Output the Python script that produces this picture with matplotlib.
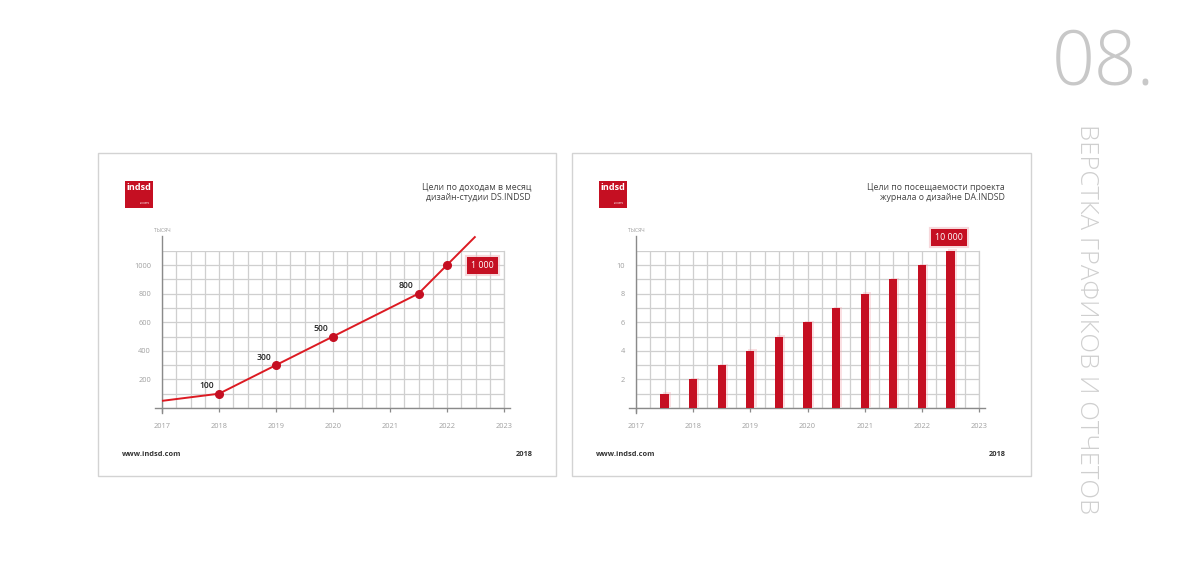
import matplotlib
matplotlib.use("Agg")
import matplotlib.pyplot as plt
import matplotlib.patches as mpatches
import matplotlib.patheffects as pe
import numpy as np

# ---------------- data ----------------
line_years = [2017, 2018, 2019, 2020, 2021.5, 2022, 2022.5]
line_values = [50, 100, 300, 500, 800, 1000, 1200]
marker_years = [2018, 2019, 2020, 2021.5, 2022]
marker_values = [100, 300, 500, 800, 1000]
marker_labels = ["100", "300", "500", "800"]
line_final_label = "1 000"

bar_years = [2017.5, 2018, 2018.5, 2019, 2019.5, 2020, 2020.5, 2021, 2021.5, 2022, 2022.5]
bar_values = [1, 2, 3, 4, 5, 6, 7, 8, 9, 10, 11]
bar_final_label = "10 000"

year_ticks = [2017, 2018, 2019, 2020, 2021, 2022, 2023]
left_yticks = [200, 400, 600, 800, 1000]
right_yticks = [2, 4, 6, 8, 10]

title_left = ["Цели по доходам в месяц", "дизайн-студии DS.INDSD"]
title_right = ["Цели по посещаемости проекта", "журнала о дизайне DA.INDSD"]
unit_label = "ТЫСЯЧ"
footer_site = "www.indsd.com"
footer_year = "2018"
section_number = "08."
section_title = "ВЕРСТКА ГРАФИКОВ И ОТЧЕТОВ"

# ---------------- style ----------------
W, H = 1200, 567
RED = "#c50f22"
LINE_RED = "#dc1a22"
GRID = "#cfcfcf"
AXIS = "#8a8a8a"
TICKTXT = "#a0a0a0"
FONT = ["Open Sans", "DejaVu Sans"]
plt.rcParams["font.family"] = FONT

fig = plt.figure(figsize=(12, 5.67), dpi=100)
fig.patch.set_facecolor("white")


def fx(x):
    return x / W


def fy(y):
    return 1 - y / H


def card(x0, y0, x1, y1):
    r = mpatches.Rectangle((fx(x0), fy(y1)), fx(x1 - x0), (y1 - y0) / H,
                           transform=fig.transFigure, fill=False,
                           edgecolor="#d3d3d3", linewidth=1.0, zorder=0)
    fig.add_artist(r)


def logo(x0, y0):
    r = mpatches.Rectangle((fx(x0), fy(y0 + 27)), fx(28), 27 / H,
                           transform=fig.transFigure, facecolor=RED,
                           edgecolor="none", zorder=2)
    fig.add_artist(r)
    fig.text(fx(x0 + 14), fy(y0 + 7), "indsd", color="white", fontsize=6.6,
             fontweight="bold", ha="center", va="center", zorder=3)
    fig.text(fx(x0 + 25), fy(y0 + 22), ".com", color="white", fontsize=3.2,
             ha="right", va="center", zorder=3)


def setup_axes(left_px, right_px, ymax_grid, yticks, ystep_minor, ytop):
    bottom_px, top_px = 408, 250.7
    ax = fig.add_axes([fx(left_px), fy(bottom_px), fx(right_px - left_px),
                       (bottom_px - top_px) / H])
    ax.set_xlim(2017, 2023)
    ax.set_ylim(0, ymax_grid)
    ax.set_xticks(year_ticks)
    ax.set_xticks(np.arange(2017, 2023.01, 0.25), minor=True)
    ax.set_yticks(yticks)
    ax.set_yticks(np.arange(0, ymax_grid + 0.001, ystep_minor), minor=True)
    ax.grid(True, which="both", color=GRID, linewidth=0.9, zorder=0)
    ax.set_axisbelow(True)
    for s in ax.spines.values():
        s.set_visible(False)
    ax.spines["right"].set_visible(True)
    ax.spines["right"].set_color(GRID)
    ax.spines["right"].set_linewidth(0.9)
    ax.tick_params(axis="y", which="both", length=0, labelsize=5.3,
                   labelcolor=TICKTXT, pad=8)
    ax.tick_params(axis="x", which="major", length=3, color=AXIS, width=0.9,
                   labelsize=5.3, labelcolor=TICKTXT, pad=8, direction="out")
    ax.tick_params(axis="x", which="minor", length=0)
    ax.set_xticklabels([str(y) for y in year_ticks])
    ax.set_yticklabels([str(t) for t in yticks])
    # axis lines (extending beyond the grid)
    ax.plot([2017, 2017], [-ymax_grid * 0.03, ytop], color=AXIS, lw=1.0,
            clip_on=False, zorder=3)
    ax.plot([2016.88, 2023.1], [0, 0], color=AXIS, lw=1.0, clip_on=False,
            zorder=3)
    ax.set_facecolor("none")
    return ax


# ---------------- cards ----------------
card(98, 153, 556, 476)
card(572, 153, 1031, 476)
logo(125, 181)
logo(599, 181)

for i, t in enumerate(title_left):
    fig.text(fx(531), fy(187 + i * 11), t, fontsize=6.3, color="#444444",
             ha="right", va="center")
for i, t in enumerate(title_right):
    fig.text(fx(1005), fy(187 + i * 11), t, fontsize=6.3, color="#444444",
             ha="right", va="center")

for xl, xr in [(122, 533), (596, 1006)]:
    fig.text(fx(xl), fy(454), footer_site, fontsize=5.3, color="#333333",
             fontweight="bold", ha="left", va="center")
    fig.text(fx(xr), fy(454), footer_year, fontsize=5.3, color="#333333",
             fontweight="bold", ha="right", va="center")

fig.text(fx(162), fy(230), unit_label, fontsize=3.6, color="#999999",
         ha="center", va="center")
fig.text(fx(636), fy(230), unit_label, fontsize=3.6, color="#999999",
         ha="center", va="center")

glow = [pe.Stroke(linewidth=3, foreground="#f3c0c5", alpha=0.6), pe.Normal()]

# ---------------- left chart: line ----------------
ax1 = setup_axes(162, 504, 1100, left_yticks, 100, 1200)
ax1.plot(line_years, line_values, color=LINE_RED, lw=1.4, clip_on=False,
         zorder=4, solid_capstyle="butt")
ax1.plot(marker_years, marker_values, "o", color=RED, markersize=5.5,
         clip_on=False, zorder=5)
for xv, yv, lab in zip(marker_years, marker_values, marker_labels):
    ax1.text(xv - 0.22, yv + 55, lab, fontsize=6.2, color="#222222",
             fontweight="semibold", ha="center", va="center", zorder=6)
t1 = ax1.text(marker_years[-1] + 0.62, marker_values[-1], line_final_label,
              fontsize=6.4, color="white", ha="center", va="center", zorder=6,
              bbox=dict(boxstyle="square,pad=0.45", facecolor=RED,
                        edgecolor="none"))
t1.get_bbox_patch().set_path_effects(glow)

# ---------------- right chart: bars ----------------
ax2 = setup_axes(636, 979, 11, right_yticks, 1, 12)
shadow = [pe.SimplePatchShadow(offset=(1.5, 1.0), shadow_rgbFace="#f4a7b0",
                               alpha=0.35), pe.Normal()]
bars = ax2.bar(bar_years, bar_values, width=0.145, color=RED, zorder=4,
               clip_on=False)
for b in bars:
    b.set_path_effects(shadow)
t2 = ax2.text(bar_years[-1] - 0.03, bar_values[-1] + 0.9, bar_final_label,
              fontsize=6.4, color="white", ha="center", va="center", zorder=6,
              bbox=dict(boxstyle="square,pad=0.45", facecolor=RED,
                        edgecolor="none"), clip_on=False)
t2.get_bbox_patch().set_path_effects(glow)

# ---------------- section header ----------------
fig.text(fx(1052), fy(85), section_number, fontsize=54, color="#c8c8c8",
         fontweight="light", ha="left", va="baseline",
         family=["Open Sans", "DejaVu Sans"])
fig.text(fx(1087), fy(124), section_title, fontsize=18.5, color="#cfcfcf",
         fontweight="light", rotation=-90, ha="center", va="top",
         family=["Open Sans", "DejaVu Sans"])

fig.savefig("out.png", dpi=100, facecolor="white")
